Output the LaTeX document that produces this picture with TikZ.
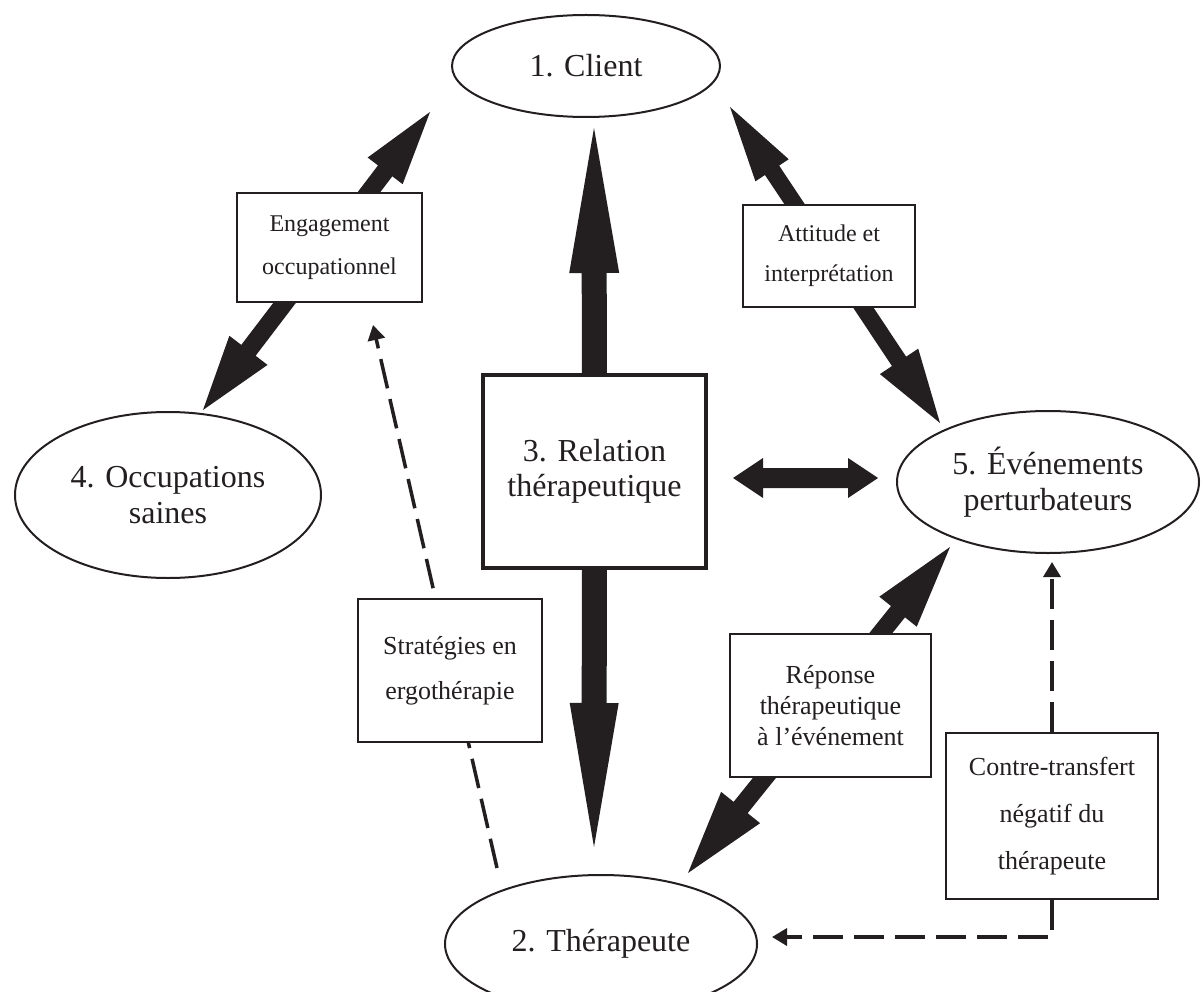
\documentclass[tikz,border=0pt]{standalone}
\usepackage{fontspec}
\setmainfont{Liberation Serif}
\usetikzlibrary{shapes.geometric,arrows.meta,calc}
\definecolor{ink}{RGB}{35,31,32}
\pgfdeclarelayer{background}
\pgfsetlayers{background,main}
% double-headed fat arrow: #1 tip A, #2 tip B, #3 shaft half width,
% #4 head length A, #5 head half width A, #6 head length B, #7 head half width B
\newcommand\fatdbl[7]{%
  \fill[ink] (#1)
    -- ($(#1)!#4!(#2)!#5!90:(#2)$)
    -- ($(#1)!#4!(#2)!#3!90:(#2)$)
    -- ($(#2)!#6!(#1)!#3!-90:(#1)$)
    -- ($(#2)!#6!(#1)!#7!-90:(#1)$)
    -- (#2)
    -- ($(#2)!#6!(#1)!#7!90:(#1)$)
    -- ($(#2)!#6!(#1)!#3!90:(#1)$)
    -- ($(#1)!#4!(#2)!#3!-90:(#2)$)
    -- ($(#1)!#4!(#2)!#5!-90:(#2)$)
    -- cycle;}
% single fat arrow: #1 start, #2 tip, #3 shaft half, #4 head length, #5 head half
\newcommand\fatone[5]{%
  \fill[ink] ($(#1)!#3!90:(#2)$)
    -- ($(#2)!#4!(#1)!#3!-90:(#1)$)
    -- ($(#2)!#4!(#1)!#5!-90:(#1)$)
    -- (#2)
    -- ($(#2)!#4!(#1)!#5!90:(#1)$)
    -- ($(#2)!#4!(#1)!#3!90:(#1)$)
    -- ($(#1)!#3!-90:(#2)$)
    -- cycle;}
\begin{document}
\begin{tikzpicture}[x=1pt,y=-1pt,
  ell/.style={ellipse, draw=ink, line width=2pt, fill=white, inner sep=0pt, align=center,
    text=ink, font=\fontsize{32}{36}\selectfont},
  lbl/.style={rectangle, draw=ink, line width=2pt, fill=white, inner sep=0pt, align=center, text=ink},
  relbox/.style={lbl, line width=3.5pt, font=\fontsize{32}{35}\selectfont},
  dasharrow/.style={draw=ink, line width=3.5pt, dash pattern=on 30pt off 11pt,
    -{Triangle[length=15pt,width=17pt]}}
]
\useasboundingbox (0,0) rectangle (1201,992);

\node[ell, minimum width=268pt, minimum height=102pt] (client) at (586,66) {1. Client};
\node[ell, minimum width=306pt, minimum height=166pt] (occ) at (168,495) {4. Occupations\\saines};
\node[ell, minimum width=302pt, minimum height=142pt] (ev) at (1048,482) {5. Événements\\perturbateurs};
\node[ell, minimum width=312pt, minimum height=138pt] (ther) at (601,944) {2. Thérapeute};
\node[relbox, minimum width=223pt, minimum height=193pt] (rel) at (594.5,471.5) {3. Relation\\thérapeutique};
\node[lbl, minimum width=185pt, minimum height=109pt, font=\fontsize{24}{43}\selectfont] (eng) at (329.5,247.5) {Engagement\\occupationnel};
\node[lbl, minimum width=172pt, minimum height=102pt, font=\fontsize{24}{40}\selectfont] (att) at (829,256) {Attitude et\\interprétation};
\node[lbl, minimum width=184pt, minimum height=143pt, font=\fontsize{26}{45}\selectfont] (strat) at (450,670.5) {Stratégies en\\ergothérapie};
\node[lbl, minimum width=201pt, minimum height=143pt, font=\fontsize{26}{31}\selectfont] (rep) at (830.5,705.5) {Réponse\\thérapeutique\\à l’événement};
\node[lbl, minimum width=212pt, minimum height=166pt, font=\fontsize{26}{47}\selectfont] (contre) at (1052,816) {Contre-transfert\\négatif du\\thérapeute};

\coordinate (tUp) at (594,128);
\coordinate (tDown) at (594,847);
\coordinate (hL) at (733,478);
\coordinate (hR) at (878,478);
\coordinate (eA) at (430,112);
\coordinate (eB) at (203,410);
\coordinate (aA) at (730,107);
\coordinate (aB) at (940,423);
\coordinate (rA) at (950,547);
\coordinate (rB) at (688,873);
\coordinate (sEnd) at (373,325);
\coordinate (sStart) at (497,868);
\coordinate (cUp) at (1052,562);
\coordinate (cLeft) at (772,937);

\begin{pgfonlayer}{background}
  \fatone{rel.center}{tUp}{12.5pt}{145pt}{25pt}
  \fatone{rel.center}{tDown}{12.5pt}{144pt}{24.5pt}
  \fatdbl{hL}{hR}{10pt}{30pt}{20pt}{30pt}{20pt}
  \fatdbl{eA}{eB}{9pt}{74pt}{22pt}{75pt}{24pt}
  \fatdbl{aA}{aB}{8.5pt}{76pt}{20pt}{74pt}{23pt}
  \fatdbl{rA}{rB}{9pt}{83pt}{24pt}{84pt}{25pt}
  \draw[dasharrow] (sStart) -- (sEnd);
  \draw[dasharrow] (contre.north) -- (cUp);
  \draw[dasharrow] (contre.south) |- (cLeft);
\end{pgfonlayer}
\end{tikzpicture}
\end{document}
